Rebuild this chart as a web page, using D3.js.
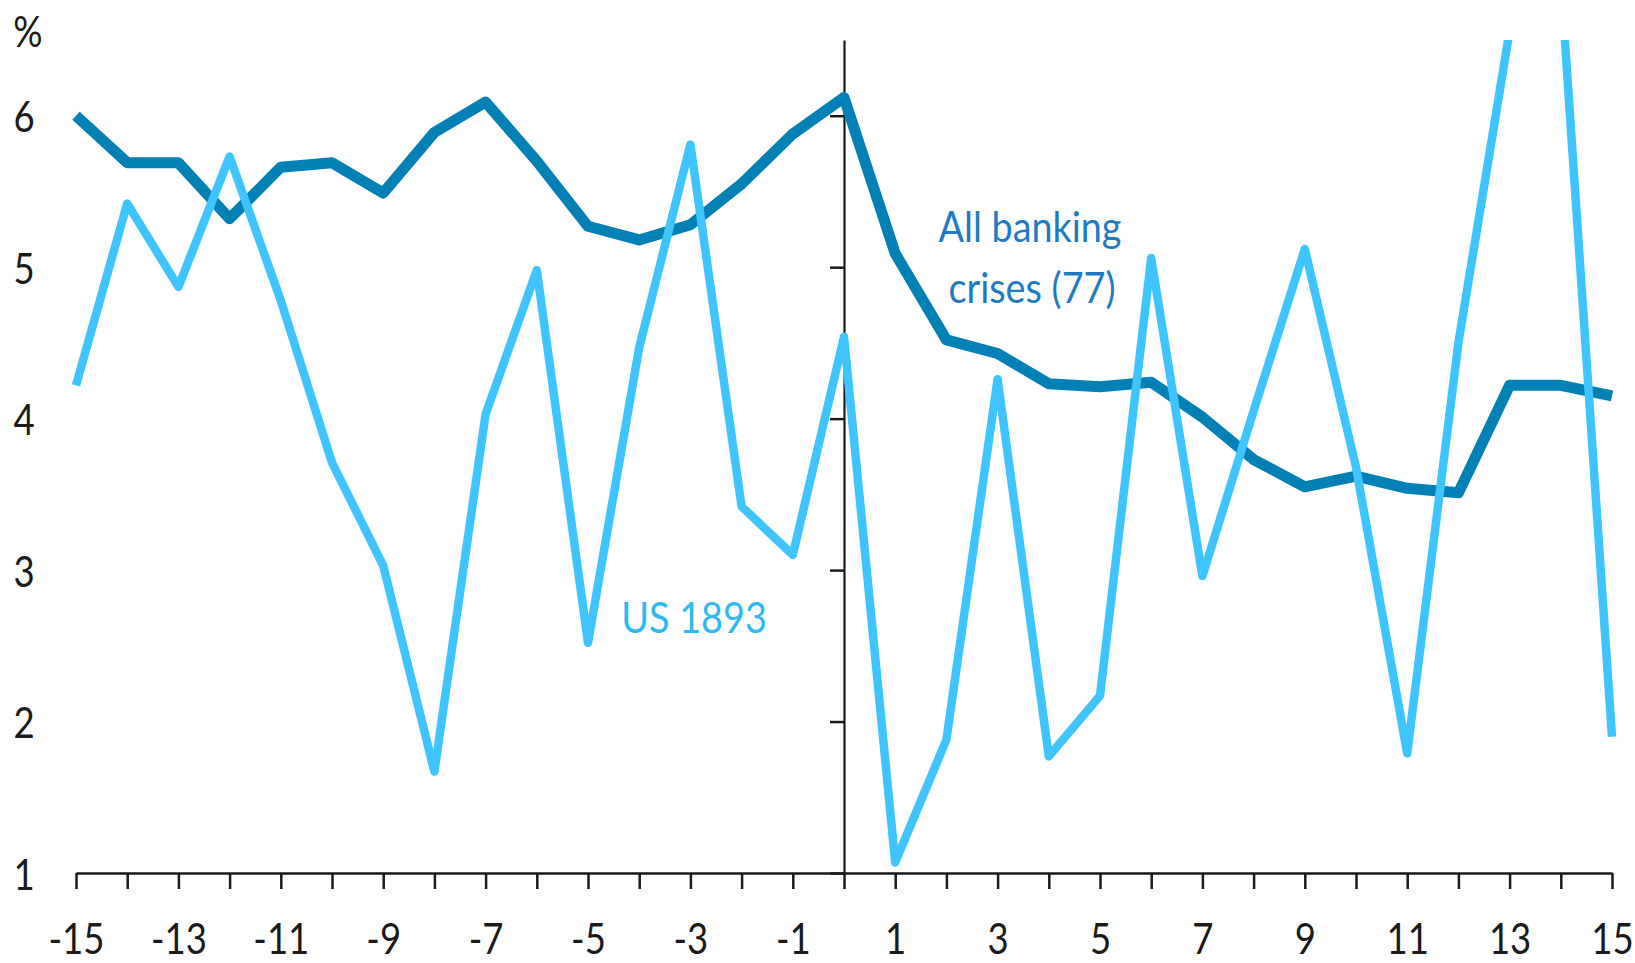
<!DOCTYPE html>
<html>
<head>
<meta charset="utf-8">
<script src="https://cdn.jsdelivr.net/npm/d3@7"></script>
<style>
  html, body { margin: 0; padding: 0; background: #fff; }
  svg { display: block; }
  text { font-family: Lato, "Open Sans", "Noto Sans", sans-serif; }
</style>
</head>
<body>
<svg id="chart" width="1635" height="963"></svg>
<script>
// Years relative to the start of the crisis
const years = [-15, -14, -13, -12, -11, -10, -9, -8, -7, -6, -5, -4, -3, -2, -1,
               0, 1, 2, 3, 4, 5, 6, 7, 8, 9, 10, 11, 12, 13, 14, 15];

// Average across all banking crises (77), %
const allCrises = [6.00, 5.69, 5.69, 5.32, 5.66, 5.69, 5.49, 5.89, 6.09, 5.70, 5.27, 5.18, 5.28, 5.55, 5.88,
                   6.12, 5.09, 4.52, 4.43, 4.23, 4.21, 4.24, 4.01, 3.73, 3.55, 3.62, 3.54, 3.51, 4.22, 4.22, 4.15];

// US 1893 episode, %
const us1893 = [4.22, 5.42, 4.87, 5.73, 4.78, 3.71, 3.03, 1.67, 4.03, 4.98, 2.52, 4.47, 5.81, 3.42, 3.10,
                4.54, 1.07, 1.88, 4.26, 1.77, 2.17, 5.06, 2.96, 4.05, 5.12, 3.68, 1.79, 4.50, 6.56, 6.90, 1.90];

const yTicks = [1, 2, 3, 4, 5, 6];
const xLabelYears = [-15, -13, -11, -9, -7, -5, -3, -1, 1, 3, 5, 7, 9, 11, 13, 15];

const width = 1635, height = 963;
const plot = { left: 76, right: 1612, top: 40, bottom: 873 };

const svg = d3.select("#chart");

const x = d3.scaleLinear().domain([-15, 15]).range([plot.left, plot.right]);
const y = d3.scaleLinear().domain([1, 6.5]).range([plot.bottom, plot.top]);

const axisColor = "#1a1a1a";
const tickFont = 43;
const tickSquash = 0.85;

// Clip lines to the plot area
svg.append("defs").append("clipPath").attr("id", "plotClip")
  .append("rect")
  .attr("x", 0).attr("y", plot.top)
  .attr("width", width).attr("height", plot.bottom - plot.top);

// Horizontal axis
const xAxis = d3.axisBottom(x)
  .tickValues(years)
  .tickSize(16)
  .tickSizeOuter(0)
  .tickFormat(d => xLabelYears.includes(d) ? String(d) : "");

const gx = svg.append("g")
  .attr("transform", `translate(0,${plot.bottom})`)
  .call(xAxis);
gx.select(".domain").attr("stroke", axisColor).attr("stroke-width", 2.5);
gx.selectAll(".tick line").attr("stroke", axisColor).attr("stroke-width", 2.5);
gx.selectAll(".tick text")
  .attr("y", 0).attr("dy", 0)
  .attr("transform", `translate(0,81) scale(${tickSquash},1)`)
  .attr("fill", axisColor)
  .attr("font-size", tickFont)
  .attr("font-family", "Lato, 'Open Sans', sans-serif");

// Vertical axis crossing at year 0, labels placed at the far left
const labelX = 24;
const yAxis = d3.axisLeft(y)
  .tickValues(yTicks)
  .tickSize(14)
  .tickSizeOuter(0)
  .tickFormat(d3.format("d"));

const gy = svg.append("g")
  .attr("transform", `translate(${x(0)},0)`)
  .call(yAxis);
gy.select(".domain").attr("stroke", axisColor).attr("stroke-width", 2.2);
gy.selectAll(".tick line").attr("stroke", axisColor).attr("stroke-width", 2.5);
gy.selectAll(".tick text")
  .attr("x", 0).attr("dy", 0)
  .attr("text-anchor", "middle")
  .attr("transform", `translate(${labelX - x(0)},16) scale(${tickSquash},1)`)
  .attr("fill", axisColor)
  .attr("font-size", tickFont)
  .attr("font-family", "Lato, 'Open Sans', sans-serif");

// Unit label
svg.append("text")
  .attr("transform", `translate(28,47) scale(${tickSquash},1)`)
  .attr("text-anchor", "middle")
  .attr("font-size", tickFont)
  .attr("fill", axisColor)
  .text("%");

// Series lines
const line = d3.line()
  .x((d, i) => x(years[i]))
  .y(d => y(d));

const lines = svg.append("g").attr("clip-path", "url(#plotClip)");

lines.append("path")
  .datum(allCrises)
  .attr("d", line)
  .attr("fill", "none")
  .attr("stroke", "#0080b5")
  .attr("stroke-width", 11)
  .attr("stroke-linejoin", "round")
  .attr("stroke-linecap", "butt");

lines.append("path")
  .datum(us1893)
  .attr("d", line)
  .attr("fill", "none")
  .attr("stroke", "#40c4ff")
  .attr("stroke-width", 8.5)
  .attr("stroke-linejoin", "round")
  .attr("stroke-linecap", "butt");

// Series labels
const labelFont = 42;
const labelSquash = 0.9;
function label(tx, ty, str, color) {
  svg.append("text")
    .attr("transform", `translate(${tx},${ty}) scale(${labelSquash},1)`)
    .attr("text-anchor", "middle")
    .attr("font-size", labelFont)
    .attr("fill", color)
    .text(str);
}
label(1030, 242, "All banking", "#1f7bc1");
label(1032, 303, "crises (77)", "#1f7bc1");
label(694, 633, "US 1893", "#30b8f0");
</script>
</body>
</html>
